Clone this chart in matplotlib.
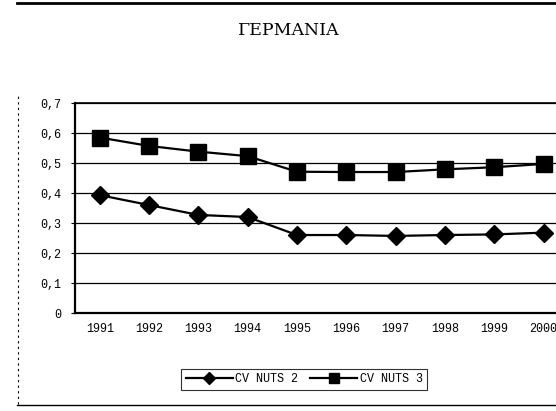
"""
CV NUTS 2 / NUTS 3 - Germany
"""

import matplotlib.pyplot as plt
import matplotlib as mpl
from matplotlib.lines import Line2D

mpl.rc('font', family='Liberation Mono')

# data
years = ["1991", "1992", "1993", "1994", "1995", "1996", "1997", "1998", "1999", "2000"]
cv_nuts2 = [0.393, 0.36, 0.327, 0.32, 0.26, 0.26, 0.257, 0.26, 0.262, 0.268]
cv_nuts3 = [0.585, 0.557, 0.538, 0.523, 0.471, 0.47, 0.47, 0.479, 0.486, 0.497]
yticks = [0, 0.1, 0.2, 0.3, 0.4, 0.5, 0.6, 0.7]
ytick_labels = ["0", "0,1", "0,2", "0,3", "0,4", "0,5", "0,6", "0,7"]

fig = plt.figure(figsize=(5.56, 4.11), dpi=100)
ax = fig.add_axes([0.135, 0.2384, 0.887, 0.5109])

x = range(len(years))
ax.plot(x, cv_nuts2, color="black", lw=1.6, marker="D", markersize=9, label="CV NUTS 2")
ax.plot(x, cv_nuts3, color="black", lw=1.6, marker="s", markersize=11.5, label="CV NUTS 3")

ax.set_xlim(-0.5, 9.5)
ax.set_ylim(0, 0.7)
ax.set_yticks(yticks)
ax.set_yticklabels(ytick_labels)
ax.set_xticks(list(x))
ax.set_xticklabels(years)
ax.yaxis.grid(True, color="black", lw=0.9)
ax.set_axisbelow(True)
ax.tick_params(axis="both", labelsize=8.5, length=3, color="black")
ax.tick_params(axis="x", length=0, pad=7)
ax.tick_params(axis="y", pad=7)
ax.spines["right"].set_visible(False)
ax.spines["left"].set_linewidth(1.6)
ax.spines["bottom"].set_linewidth(1.6)
ax.spines["top"].set_linewidth(1.2)

# title
fig.text(0.52, 0.925, "ΓΕΡΜΑΝΙΑ", family="DejaVu Serif", fontsize=12.5,
         ha="center", va="center")

# frame lines from the scanned page
fig.add_artist(Line2D([0.031, 1.0], [0.993, 0.993], color="black", lw=2, transform=fig.transFigure))
fig.add_artist(Line2D([0.031, 1.0], [0.015, 0.015], color="black", lw=1, transform=fig.transFigure))
fig.add_artist(Line2D([0.032, 0.032], [0.018, 0.77], color="black", lw=0.8, ls=(0, (2, 3)),
                      transform=fig.transFigure))

leg = fig.legend(loc="center", bbox_to_anchor=(0.547, 0.077), ncol=2, fontsize=8.5,
                 frameon=True, fancybox=False, handlelength=4, handletextpad=0.2,
                 columnspacing=1.0, borderpad=0.4, markerscale=0.65)
leg.get_frame().set_edgecolor("black")
leg.get_frame().set_linewidth(0.8)

plt.savefig("out.png", dpi=100)
plt.close()
